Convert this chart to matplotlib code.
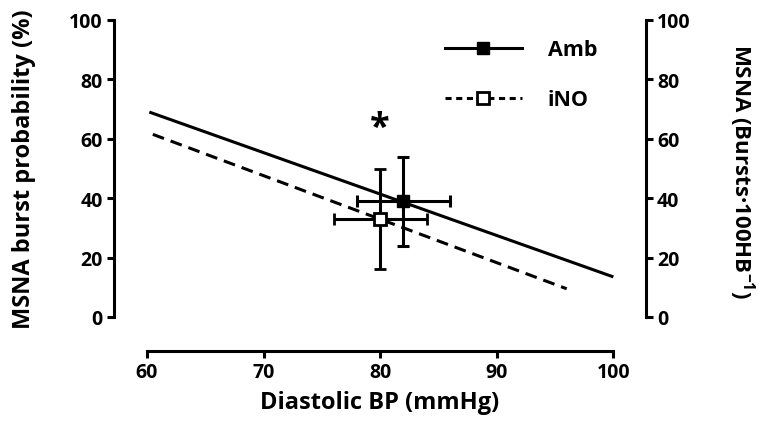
import matplotlib.pyplot as plt

# group means and errors (x = diastolic BP, y = MSNA burst probability)
groups = ["Amb", "iNO"]
dbp_mean = [82, 80]
dbp_err = [4, 4]
msna_mean = [39, 33]
msna_err = [15, 17]

# regression lines
amb_fit_x = [60.2, 100]
amb_fit_y = [69, 13.5]
ino_fit_x = [60.5, 96]
ino_fit_y = [61.5, 9.5]

xticks = [60, 70, 80, 90, 100]
yticks = [0, 20, 40, 60, 80, 100]

plt.rcParams["font.family"] = ["Open Sans", "DejaVu Sans"]
plt.rcParams["font.weight"] = "bold"
plt.rcParams["mathtext.fontset"] = "custom"
plt.rcParams["mathtext.rm"] = "Open Sans:bold"
plt.rcParams["mathtext.default"] = "rm"

fig = plt.figure(figsize=(7.63, 4.39), dpi=100)
ax = fig.add_axes([114 / 763, 121 / 439, 532 / 763, 297 / 439])

lw = 2.2
ax.plot(amb_fit_x, amb_fit_y, color="black", lw=lw, solid_capstyle="butt")
ax.plot(ino_fit_x, ino_fit_y, color="black", lw=lw, dashes=(3.9, 2.3))

ax.errorbar(dbp_mean[0], msna_mean[0], xerr=dbp_err[0], yerr=msna_err[0],
            fmt="s", color="black", mfc="black", mec="black", ms=9,
            elinewidth=lw, capsize=4.5, capthick=lw, zorder=4)
ax.errorbar(dbp_mean[1], msna_mean[1], xerr=dbp_err[1], yerr=msna_err[1],
            fmt="s", color="black", mfc="white", mec="black", ms=9, mew=2,
            elinewidth=lw, capsize=4.5, capthick=lw, zorder=5)

ax.text(80, 63.5, "*", ha="center", va="center", fontsize=26, fontweight="bold")

# legend handles
h1, = ax.plot([], [], color="black", lw=lw, marker="s", ms=9, mfc="black")
h2, = ax.plot([], [], color="black", lw=lw, marker="s", ms=9, mfc="white",
              mew=2, dashes=(2.0, 1.5))
ax.legend([h1, h2], groups, loc="upper left", bbox_to_anchor=(0.585, 1.0),
          frameon=False, handlelength=3.6, labelspacing=1.35, handletextpad=1.2,
          prop={"weight": "bold", "size": 15.5})

ax.set_xlim(57.17, 102.8)
ax.set_ylim(0, 100)

for s in ["left", "right", "bottom"]:
    ax.spines[s].set_linewidth(lw)
ax.spines["top"].set_visible(False)
ax.spines["left"].set_bounds(0, 100)
ax.spines["right"].set_bounds(0, 100)
ax.spines["bottom"].set_bounds(60, 100)
ax.spines["bottom"].set_position(("outward", 34 * 72 / 100))

ax.set_xticks(xticks)
ax.set_yticks(yticks)
ax.tick_params(width=lw, length=5, labelsize=14, pad=3)
ax.yaxis.set_ticks_position("both")
ax.tick_params(axis="y", labelright=True)
for lab in ax.get_xticklabels() + ax.get_yticklabels():
    lab.set_fontweight("bold")

ax.set_xlabel("Diastolic BP (mmHg)", fontsize=17, fontweight="bold", labelpad=6)
ax.set_ylabel("MSNA burst probability (%)", fontsize=17, fontweight="bold", labelpad=24)

fig.text(742 / 763, 1 - 172 / 439, "MSNA (Bursts\u00b7100HB$^{-1}$)",
         rotation=270, ha="center", va="center", fontsize=16, fontweight="bold")

fig.savefig("out.png", dpi=100)
